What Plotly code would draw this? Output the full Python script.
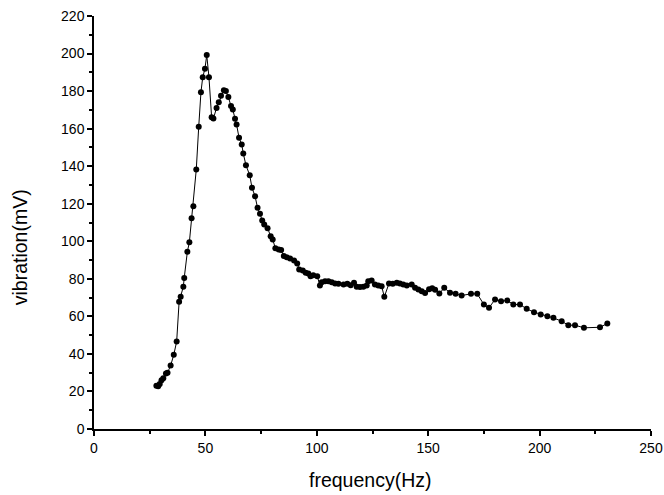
import plotly.graph_objects as go

# frequency (Hz)
freq = [28.0, 28.8, 29.5, 30.3, 31.1, 32.3, 33.0, 34.4, 35.8, 37.1,
        38.2, 38.9, 40.1, 40.5, 41.9, 42.8, 43.8, 44.6, 45.9, 47.0,
        48.0, 48.8, 49.8, 50.6, 51.6, 52.8, 53.6, 55.0, 56.0, 57.0,
        58.3, 59.2, 60.3, 61.5, 62.3, 63.3, 64.0, 65.1, 66.3, 67.0,
        68.2, 69.9, 70.9, 72.3, 73.4, 74.5, 75.5, 76.4, 77.9, 79.3,
        80.2, 81.4, 82.9, 84.0, 85.2, 86.5, 88.0, 89.8, 91.2, 92.1,
        93.7, 95.0, 96.2, 97.2, 98.4, 100.2, 101.4, 102.2, 103.7, 105.2,
        106.7, 108.2, 109.7, 112.0, 113.7, 115.2, 116.7, 117.9, 119.4, 120.9,
        122.4, 123.1, 124.6, 126.1, 127.6, 129.1, 130.3, 132.4, 134.1, 135.9,
        137.3, 138.8, 140.4, 142.6, 144.1, 145.6, 147.1, 148.6, 150.4, 151.8,
        153.1, 155.0, 157.2, 159.8, 162.3, 165.0, 169.2, 172.0, 175.0, 177.3,
        180.0, 182.7, 185.5, 188.2, 191.2, 194.2, 197.5, 200.5, 203.5, 206.2,
        209.9, 212.9, 215.9, 219.9, 227.1, 230.4]

# vibration (mV)
vib = [23.0, 22.8, 24.0, 26.0, 27.0, 29.5, 30.0, 33.8, 39.5, 46.6,
       67.8, 70.4, 75.8, 80.5, 94.4, 99.5, 112.3, 118.7, 138.2, 161.0,
       179.4, 187.4, 191.9, 199.2, 187.4, 166.0, 165.4, 171.0, 174.0, 177.5,
       180.5, 180.0, 176.8, 172.0, 170.2, 165.3, 162.2, 155.1, 151.6, 146.8,
       140.5, 135.2, 128.5, 124.0, 117.8, 114.7, 111.0, 109.0, 107.0, 102.7,
       101.0, 96.3, 95.6, 95.3, 92.1, 91.5, 90.8, 89.8, 88.2, 85.0,
       84.4, 83.2, 82.8, 81.4, 81.9, 81.4, 76.5, 78.2, 78.7, 78.7,
       78.2, 77.5, 77.4, 77.0, 77.4, 76.6, 77.9, 75.8, 75.6, 75.8,
       76.5, 78.7, 79.1, 77.0, 76.5, 76.1, 70.4, 77.5, 77.4, 77.9,
       77.5, 77.0, 76.5, 77.0, 75.2, 74.3, 73.4, 72.4, 74.5, 75.0,
       74.2, 72.2, 75.2, 72.6, 72.0, 71.1, 72.0, 72.0, 66.3, 64.6,
       69.0, 68.1, 68.5, 66.3, 66.3, 64.0, 62.2, 61.0, 60.1, 59.2,
       57.4, 55.3, 55.3, 53.9, 54.2, 56.2]

x_title = "frequency(Hz)"
y_title = "vibration(mV)"

font = "Arial, Liberation Sans, sans-serif"

fig = go.Figure(go.Scatter(
    x=freq, y=vib,
    mode="lines+markers",
    line=dict(color="black", width=1),
    marker=dict(symbol="circle", size=6, color="black"),
    showlegend=False,
))

fig.update_layout(
    width=664, height=495,
    margin=dict(l=94, r=13, t=16, b=66),
    paper_bgcolor="white", plot_bgcolor="white",
    font=dict(family=font, color="black", size=14),
)

fig.update_xaxes(
    range=[0, 250], tickvals=[0, 50, 100, 150, 200, 250],
    automargin=False, ticklabeloverflow="allow",
    showgrid=False, zeroline=False,
    showline=True, linecolor="black", linewidth=1.5,
    ticks="outside", ticklen=5, tickwidth=1.5, tickcolor="black",
    minor=dict(tickvals=[25, 75, 125, 175, 225], ticks="outside", ticklen=3,
               tickcolor="black", tickwidth=1.5, showgrid=False),
)

fig.update_yaxes(
    range=[0, 220], tickvals=list(range(0, 221, 20)),
    automargin=False, ticklabeloverflow="allow",
    showgrid=False, zeroline=False,
    showline=True, linecolor="black", linewidth=1.5,
    ticks="outside", ticklen=5, tickwidth=1.5, tickcolor="black",
    minor=dict(tickvals=list(range(10, 220, 20)), ticks="outside", ticklen=3,
               tickcolor="black", tickwidth=1.5, showgrid=False),
)

# axis titles as annotations so they sit where the reference has them
fig.add_annotation(text=x_title, xref="paper", yref="paper", x=0.495, y=0,
                   yshift=-51, xanchor="center", yanchor="middle",
                   showarrow=False, font=dict(size=19.5))
fig.add_annotation(text=y_title, xref="paper", yref="paper", x=0, y=0.44,
                   xshift=-74, xanchor="center", yanchor="middle", textangle=-90,
                   showarrow=False, font=dict(size=19.5))

# drop the browser's default body margin so the page is exactly the figure
fig.write_html("out.html",
               config={"displayModeBar": False},
               post_script="document.body.style.margin='0';"
                           "document.body.style.overflow='hidden';")
